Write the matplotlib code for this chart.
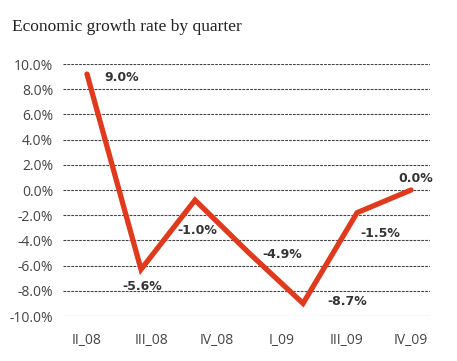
import matplotlib
matplotlib.use("Agg")
import matplotlib.pyplot as plt

# Data
values = [9.2, -6.3, -0.8, -5.0, -9.0, -1.8, 0.0]
point_labels = ["9.0%", "-5.6%", "-1.0%", "-4.9%", "-8.7%", "-1.5%", "0.0%"]
tick_labels = ["II_08", "III_08", "IV_08", "I_09", "III_09", "IV_09"]
tick_positions = [0, 1.2, 2.4, 3.6, 4.8, 6.0]
yticks = list(range(-10, 11, 2))
label_offsets = [(35, -3), (1, -17), (2, -30), (33, -2), (44, 2), (23, -21), (5, 11)]

fig = plt.figure(figsize=(4.57, 3.61), dpi=100)
ax = fig.add_axes([63/457, 1-316/361, (430-63)/457, (316-64)/361])

xs = list(range(len(values)))
ax.plot(xs, values, color="#E03A1E", lw=3.8, solid_capstyle="round",
        solid_joinstyle="miter", clip_on=False, zorder=3)

for x, v, t, (dx, dy) in zip(xs, values, point_labels, label_offsets):
    ax.annotate(t, (x, v), xytext=(dx, dy), textcoords="offset pixels",
                ha="center", va="center", fontsize=9, fontweight="bold",
                color="#333333", family="DejaVu Sans", zorder=4)

ax.set_ylim(-10, 10)
ax.set_xlim(-0.444, 6.35)
ax.set_yticks(yticks)
ax.set_yticklabels([f"{v:.1f}%" for v in yticks], family="Open Sans", fontsize=10, color="#444444")
ax.set_xticks(tick_positions)
ax.set_xticklabels(tick_labels, family="Open Sans", fontsize=10, color="#444444")
ax.tick_params(axis="both", length=0)
ax.tick_params(axis="x", pad=12)
ax.tick_params(axis="y", pad=7)
for s in ax.spines.values():
    s.set_visible(False)
ax.grid(axis="y", color="#444444", lw=0.8, linestyle=(0, (2.5, 1)))
ax.set_axisbelow(True)

fig.text(12/457, 1-27/361, "Economic growth rate by quarter", family="Liberation Serif",
         fontsize=12.5, color="#222222", va="center", ha="left")

fig.savefig("out.png", dpi=100)
